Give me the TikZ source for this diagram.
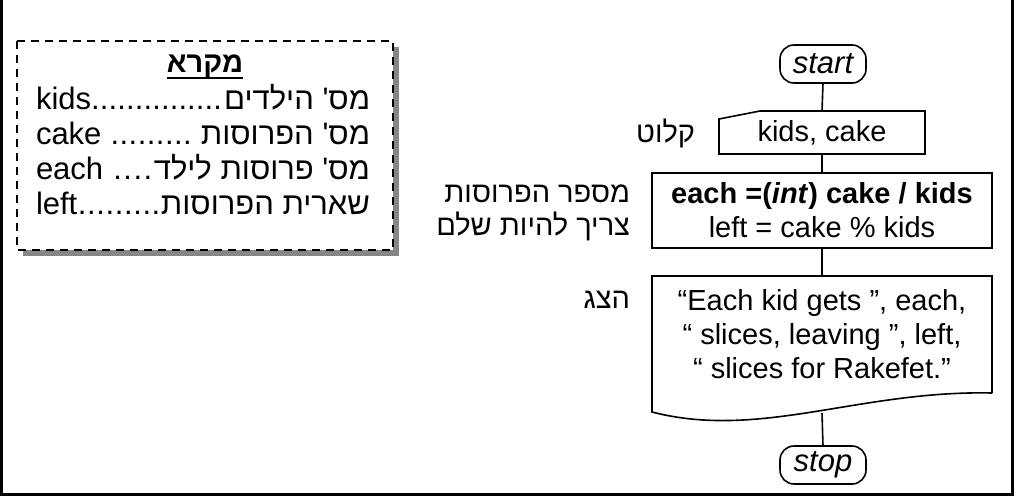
\documentclass[tikz,border=0pt]{standalone}
\usepackage{fontspec}
\setmainfont{Liberation Sans}
\newfontfamily\heb[Script=Hebrew]{Liberation Sans}
\TeXXeTstate=1
\usetikzlibrary{calc}
\newcommand\mydots{\xleaders\hbox{.}\hfill}
\begin{document}
\begin{tikzpicture}[x=1pt,y=-1pt,
  every node/.style={inner sep=0pt, outer sep=0pt},
  fcline/.style={line width=1.6pt},
  bigfont/.style={font=\fontsize{29}{34}\selectfont},
  term/.style={draw, fcline, rounded corners=14pt, minimum width=86pt, minimum height=38pt, font=\fontsize{31}{34}\selectfont\itshape},
  hlabel/.style={font=\fontsize{29}{33}\selectfont\heb},
  conn/.style={fcline},
  legendrow/.style={anchor=base west, font=\fontsize{31}{35}\selectfont}]
\useasboundingbox (0,0) rectangle (1016,498);
% outer frame
\draw[line width=2.8pt] (1.3,0) -- (1.3,494.7) -- (1012.8,494.7) -- (1012.8,0);
% legend
\fill[gray!95] (23,47) rectangle (399,256);
\draw[line width=1.5pt, dash pattern=on 8pt off 6pt, fill=white] (17,41) rectangle (393,250);
\node[font=\fontsize{29}{34}\selectfont\heb\bfseries, anchor=base] (ttl) at (205,72) {\beginR מקרא\endR};
\draw[line width=2.5pt] ($(ttl.base west)+(0,6)$) -- ($(ttl.base east)+(0,6)$);
\node[legendrow] (r1) at (36,109) {\makebox[334pt][s]{kids\mydots\kern2pt{\heb\beginR מס' הילדים\endR}}};
\node[legendrow] (r2) at (36,144) {\makebox[334pt][s]{cake \mydots\ {\heb\beginR מס' הפרוסות\endR}}};
\node[legendrow] (r3) at (36,179) {\makebox[334pt][s]{each \mydots{\heb\beginR מס' פרוסות לילד\endR}}};
\node[legendrow] (r4) at (36,214) {\makebox[334pt][s]{left\mydots{\heb\beginR שארית הפרוסות\endR}}};
% flowchart
\node[term] (start) at (823,64) {start};
\node[bigfont, minimum width=206pt, minimum height=43pt] (in) at (822,132.5) {kids, cake};
\draw[fcline] (in.south west) -- ($(in.north west)+(0,8)$) -- ($(in.north west)+(41,0)$) -- (in.north east) -- (in.south east) -- cycle;
\node[draw, fcline, bigfont, align=center, minimum width=340pt, minimum height=75pt] (proc) at (822,210.5)
  {\textbf{each =(\textit{int}) cake / kids}\\left = cake \% kids};
\node[bigfont, align=center, minimum width=340pt, minimum height=117pt] (out) at (822,334.5)
  {“Each kid gets ”, each,\\“ slices, leaving ”, left,\\“ slices for Rakefet.”};
\draw[fcline] (out.south east) -- (out.north east) -- (out.north west) -- ($(out.south west)+(0,19)$)
  .. controls (760,440) and (860,390) .. (out.south east);
\coordinate (outbot) at (822,413);
\node[term] (stop) at (823,465) {stop};
\draw[conn] (start.south) -- (in.north);
\draw[conn] (in.south) -- (proc.north);
\draw[conn] (proc.south) -- (out.north);
\draw[conn] (outbot) -- (stop.north);
% labels
\node[hlabel, anchor=base east] (lin) at (695,142) {\beginR קלוט\endR};
\node[hlabel, anchor=east, align=right] (lproc) at (630,213) {\beginR מספר הפרוסות\endR\\\beginR צריך להיות שלם\endR};
\node[hlabel, anchor=east] (lout) at (630,300) {\beginR הצג\endR};
\end{tikzpicture}
\end{document}
